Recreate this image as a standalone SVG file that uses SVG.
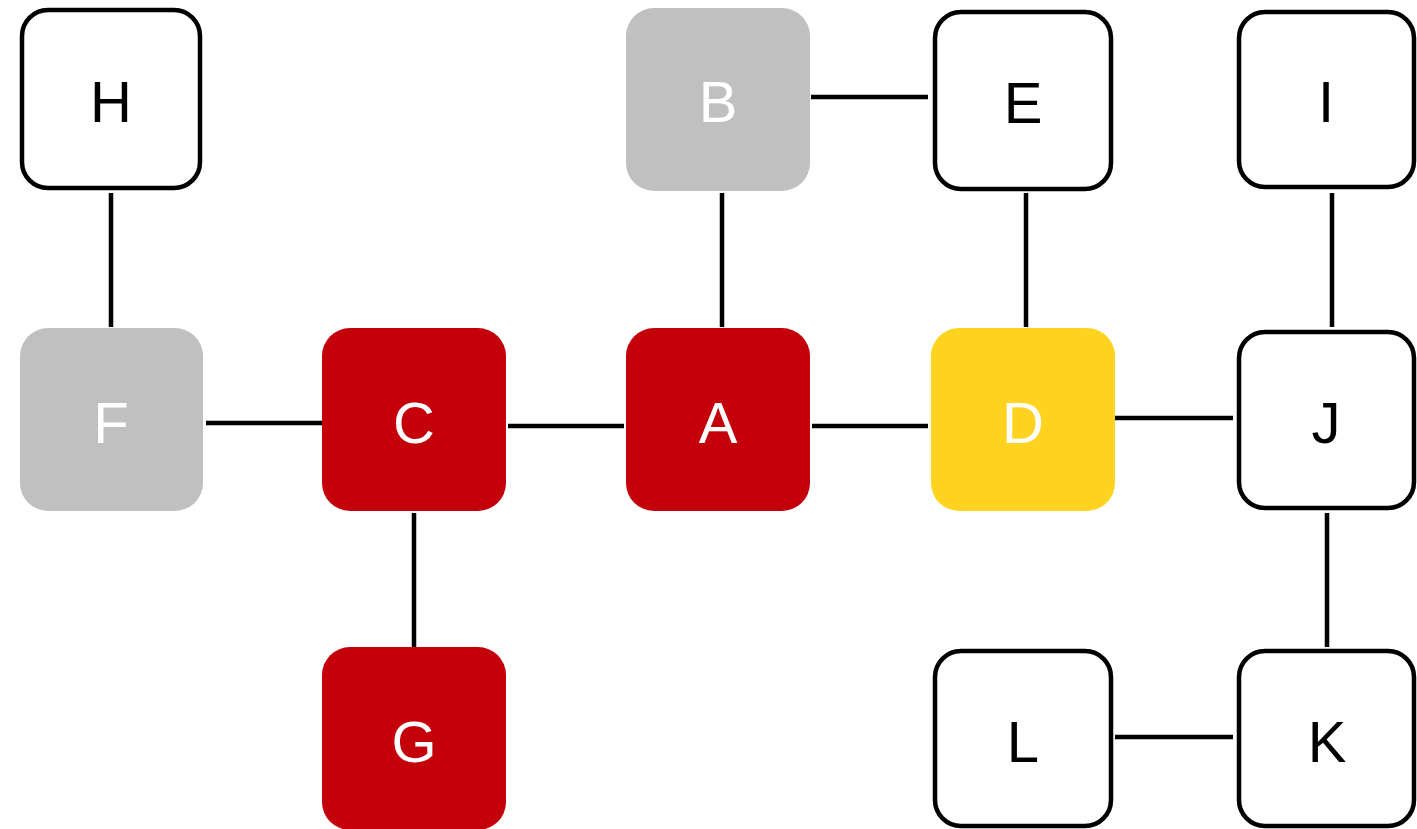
<svg xmlns="http://www.w3.org/2000/svg" width="1417" height="829" viewBox="0 0 1417 829">
  <style>
    .box { stroke: none; }
    .outline { fill: #ffffff; stroke: #000000; stroke-width: 4.5; }
    .grey { fill: #c0c0c0; }
    .red { fill: #c4000b; }
    .yellow { fill: #ffd320; }
    .lbl { font-family: "Liberation Sans", Arial, sans-serif; font-size: 58px; text-anchor: middle; }
    .dark { fill: #000000; }
    .light { fill: #ffffff; }
    .edge { stroke: #000000; stroke-width: 4.5; fill: none; }
  </style>
  <rect width="1417" height="829" fill="#ffffff"/>

  <g id="connectors">
    <line class="edge" x1="111" y1="193" x2="111" y2="327"/>
    <line class="edge" x1="206" y1="423" x2="322" y2="423"/>
    <line class="edge" x1="508" y1="426" x2="624" y2="426"/>
    <line class="edge" x1="812" y1="426" x2="928" y2="426"/>
    <line class="edge" x1="1115" y1="418" x2="1233" y2="418"/>
    <line class="edge" x1="722" y1="193" x2="722" y2="327"/>
    <line class="edge" x1="811" y1="97" x2="928" y2="97"/>
    <line class="edge" x1="1026" y1="193" x2="1026" y2="327"/>
    <line class="edge" x1="1332" y1="193" x2="1332" y2="327"/>
    <line class="edge" x1="1327" y1="513" x2="1327" y2="647"/>
    <line class="edge" x1="414" y1="513" x2="414" y2="647"/>
    <line class="edge" x1="1115" y1="737" x2="1233" y2="737"/>
  </g>

  <g id="node-H">
    <rect class="outline" x="22" y="10" width="178" height="178" rx="26"/>
    <text class="lbl dark" x="111" y="122">H</text>
  </g>
  <g id="node-B">
    <rect class="box grey" x="626" y="8" width="184" height="183" rx="28"/>
    <text class="lbl light" x="718" y="122">B</text>
  </g>
  <g id="node-E">
    <rect class="outline" x="935" y="12" width="176" height="177" rx="26"/>
    <text class="lbl dark" x="1023" y="123">E</text>
  </g>
  <g id="node-I">
    <rect class="outline" x="1239" y="12" width="175" height="175" rx="26"/>
    <text class="lbl dark" x="1326" y="122">I</text>
  </g>
  <g id="node-F">
    <rect class="box grey" x="20" y="328" width="183" height="183" rx="28"/>
    <text class="lbl light" x="111" y="443">F</text>
  </g>
  <g id="node-C">
    <rect class="box red" x="322" y="328" width="184" height="183" rx="28"/>
    <text class="lbl light" x="414" y="443">C</text>
  </g>
  <g id="node-A">
    <rect class="box red" x="626" y="328" width="184" height="183" rx="28"/>
    <text class="lbl light" x="718" y="443">A</text>
  </g>
  <g id="node-D">
    <rect class="box yellow" x="931" y="328" width="184" height="183" rx="28"/>
    <text class="lbl light" x="1023" y="443">D</text>
  </g>
  <g id="node-J">
    <rect class="outline" x="1239" y="332" width="175" height="176" rx="26"/>
    <text class="lbl dark" x="1326" y="443">J</text>
  </g>
  <g id="node-G">
    <rect class="box red" x="322" y="647" width="184" height="183" rx="28"/>
    <text class="lbl light" x="414" y="762">G</text>
  </g>
  <g id="node-L">
    <rect class="outline" x="935" y="651" width="176" height="175" rx="26"/>
    <text class="lbl dark" x="1023" y="762">L</text>
  </g>
  <g id="node-K">
    <rect class="outline" x="1239" y="651" width="175" height="175" rx="26"/>
    <text class="lbl dark" x="1327" y="762">K</text>
  </g>
</svg>
